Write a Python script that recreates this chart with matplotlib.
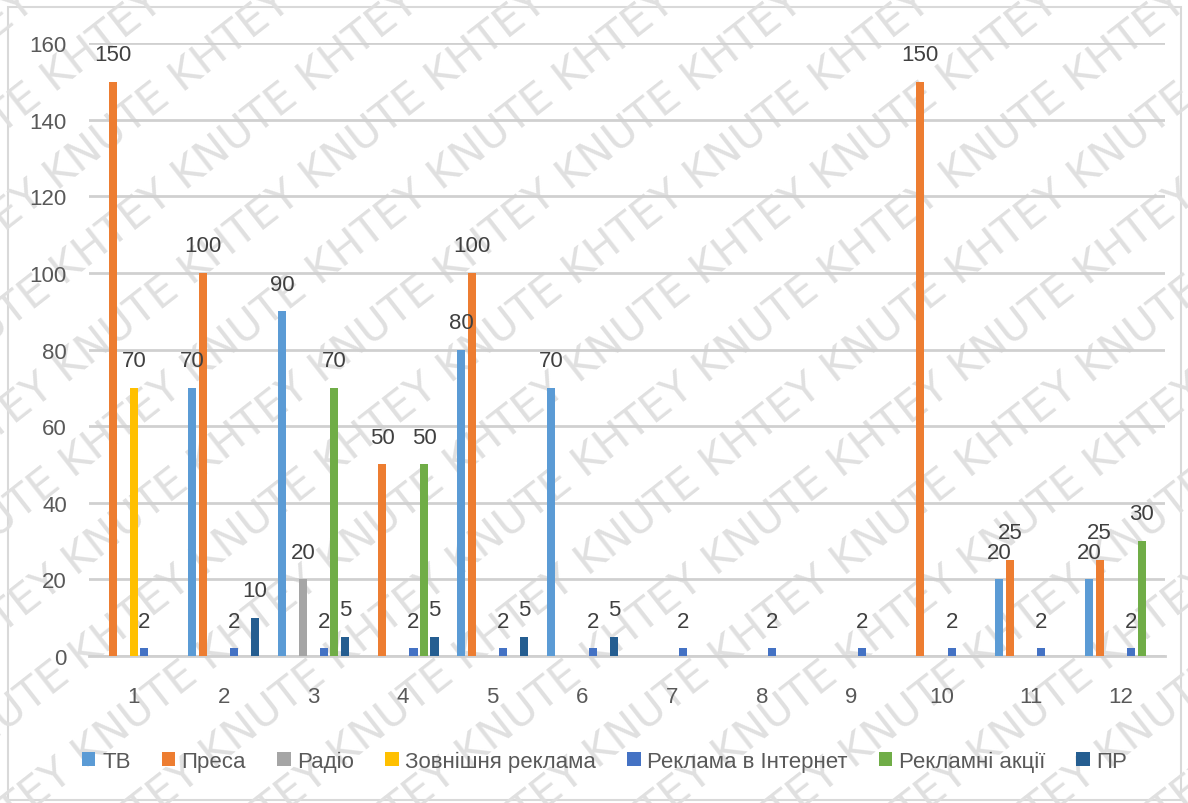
import matplotlib
matplotlib.use('Agg')
import matplotlib.pyplot as plt
from matplotlib.patches import Rectangle
from matplotlib.transforms import IdentityTransform
import numpy as np

plt.rcParams['font.family'] = ['Liberation Sans', 'DejaVu Sans']

months = ['1', '2', '3', '4', '5', '6', '7', '8', '9', '10', '11', '12']
series_names = ['ТВ', 'Преса', 'Радіо', 'Зовнішня реклама', 'Реклама в Інтернет',
                'Рекламні акції', 'ПР']
tv = [0, 70, 90, 0, 80, 70, 0, 0, 0, 0, 20, 20]
press = [150, 100, 0, 50, 100, 0, 0, 0, 0, 150, 25, 25]
radio = [0, 0, 20, 0, 0, 0, 0, 0, 0, 0, 0, 0]
outdoor = [70, 0, 0, 0, 0, 0, 0, 0, 0, 0, 0, 0]
internet = [2, 2, 2, 2, 2, 2, 2, 2, 2, 2, 2, 2]
promo = [0, 0, 70, 50, 0, 0, 0, 0, 0, 0, 0, 30]
pr = [0, 10, 5, 5, 5, 5, 0, 0, 0, 0, 0, 0]

colors = ['#5B9BD5', '#ED7D31', '#A5A5A5', '#FFC000', '#4472C4', '#70AD47', '#255E91']
all_series = [tv, press, radio, outdoor, internet, promo, pr]

fig = plt.figure(figsize=(11.88, 8.04), dpi=100)
ax = fig.add_axes([0.075, 0.183, 0.906, 0.762])
ax.patch.set_alpha(0)

x = np.arange(1, len(months) + 1)
slot = 0.117
bar_w = 0.09
for i, (vals, name, col) in enumerate(zip(all_series, series_names, colors)):
    pos = x + (i - 3) * slot
    ax.bar(pos, vals, width=bar_w, color=col, label=name, zorder=3)
    for px, v in zip(pos, vals):
        if v > 0:
            ax.annotate(str(v), (px, v), xytext=(0, 12), textcoords='offset points',
                        ha='center', va='bottom', fontsize=16, color='#404040', zorder=4)

ax.set_xlim(0.5, 12.5)
ax.set_ylim(0, 160)
ax.set_yticks(range(0, 161, 20))
ax.set_xticks(x)
ax.set_xticklabels(months)
ax.grid(axis='y', color='#D0D0D0', linewidth=2, zorder=0)
for s in ['top', 'right', 'left']:
    ax.spines[s].set_visible(False)
ax.spines['bottom'].set_color('#D0D0D0')
ax.spines['bottom'].set_linewidth(2)
ax.tick_params(axis='both', length=0, labelsize=16, labelcolor='#595959')
ax.tick_params(axis='y', pad=16)
ax.tick_params(axis='x', pad=22)

fig.legend(loc='center', bbox_to_anchor=(0.509, 0.052), ncol=7, frameon=False,
           fontsize=16, labelcolor='#595959', handlelength=0.6, handleheight=0.6,
           handletextpad=0.3, columnspacing=1.4)

# outer frame of the chart area
fig.patches.append(Rectangle((0.007, 0.004), 0.987, 0.986, transform=fig.transFigure,
                             fill=False, edgecolor='#D9D9D9', linewidth=1.5, zorder=-2))

# diagonal watermark
mark = 'KHTEY KNUTE ' * 9
for x0 in range(-1700, 1300, 128):
    fig.text(x0, -60, mark, transform=IdentityTransform(), rotation=38,
             rotation_mode='anchor', fontsize=31, color='#E0E0E0',
             family='DejaVu Sans', zorder=-1, ha='left', va='baseline')

fig.savefig('out.png', dpi=100)
